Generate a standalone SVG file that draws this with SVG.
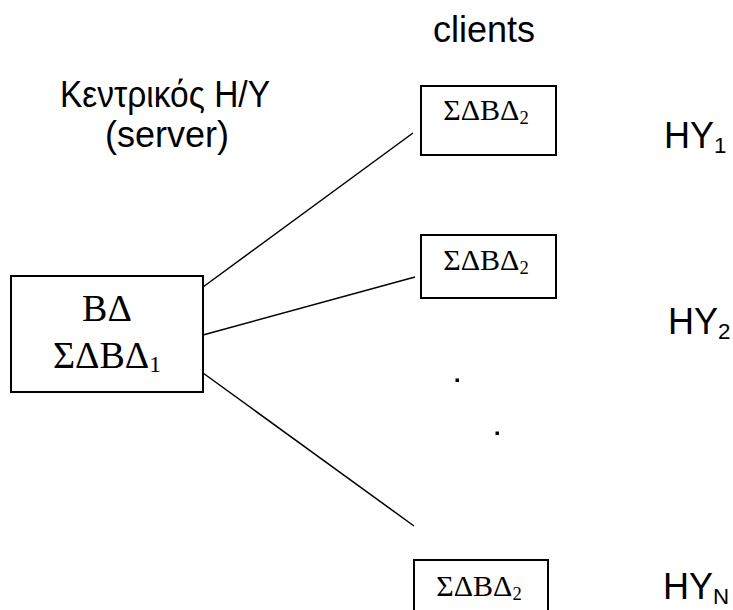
<svg xmlns="http://www.w3.org/2000/svg" width="733" height="610" viewBox="0 0 733 610">
  <style>
    .box { fill: #ffffff; stroke: #000000; stroke-width: 2; }
    .link { stroke: #000000; stroke-width: 1.5; fill: none; }
    .sans { font-family: "Liberation Sans", Arial, sans-serif; fill: #000000; }
    .serif { font-family: "Liberation Serif", "Times New Roman", serif; fill: #000000; }
    .lbl { font-size: 36px; }
    .db { font-size: 30px; text-anchor: middle; }
    .big { font-size: 38px; }
    .sub { font-size: 0.62em; }
  </style>
  <rect width="733" height="610" fill="#ffffff"/>

  <!-- connectors from the server to the clients -->
  <g id="connectors">
    <line class="link" x1="203" y1="287" x2="413" y2="133"/>
    <line class="link" x1="203" y1="335" x2="415" y2="277"/>
    <line class="link" x1="203" y1="373" x2="414" y2="526"/>
  </g>

  <!-- headings -->
  <g id="headings">
    <text class="sans lbl" x="484" y="42" text-anchor="middle">clients</text>
    <text class="sans lbl" x="165" y="107" text-anchor="middle" textLength="210" lengthAdjust="spacingAndGlyphs">Κεντρικός Η/Υ</text>
    <text class="sans lbl" x="167" y="147" text-anchor="middle">(server)</text>
  </g>

  <!-- central computer -->
  <g id="server">
    <rect class="box" x="11" y="276" width="192" height="116"/>
    <text class="serif db big" x="107" y="321">ΒΔ</text>
    <text class="serif db big" x="107" y="368">ΣΔΒΔ<tspan class="sub" dy="4">1</tspan></text>
  </g>

  <!-- client 1 -->
  <g id="client1">
    <rect class="box" x="421" y="86" width="135" height="69"/>
    <text class="serif db" x="486" y="120">ΣΔΒΔ<tspan class="sub" dy="4">2</tspan></text>
    <text class="sans lbl" x="664" y="148">ΗΥ<tspan class="sub" dy="5">1</tspan></text>
  </g>

  <!-- client 2 -->
  <g id="client2">
    <rect class="box" x="421" y="235" width="135" height="63"/>
    <text class="serif db" x="486" y="270">ΣΔΒΔ<tspan class="sub" dy="4">2</tspan></text>
    <text class="sans lbl" x="668" y="334">ΗΥ<tspan class="sub" dy="5">2</tspan></text>
  </g>

  <!-- ellipsis between the clients -->
  <g id="ellipsis">
    <rect x="455.5" y="378.5" width="3.5" height="3.5" fill="#000000"/>
    <rect x="495.5" y="431.5" width="3.5" height="3.5" fill="#000000"/>
  </g>

  <!-- client N -->
  <g id="clientN">
    <rect class="box" x="414" y="560" width="134" height="62"/>
    <text class="serif db" x="479" y="596">ΣΔΒΔ<tspan class="sub" dy="4">2</tspan></text>
    <text class="sans lbl" x="663" y="599">ΗΥ<tspan class="sub" dy="5">N</tspan></text>
  </g>
</svg>
